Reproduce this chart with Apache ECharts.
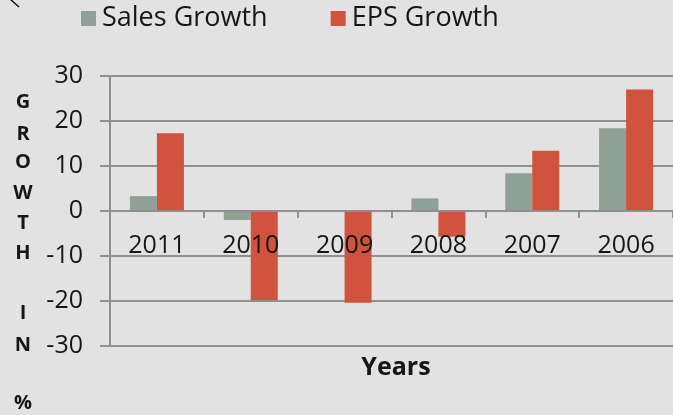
<!DOCTYPE html>
<html>
<head>
<meta charset="utf-8">
<script src="https://cdn.jsdelivr.net/npm/echarts@6/dist/echarts.min.js"></script>
<style>
  html, body { margin: 0; padding: 0; background: #e2e2e2; }
  #chart { width: 673px; height: 415px; }
</style>
</head>
<body>
<div id="chart"></div>
<script>
// Yearly growth figures (%)
const categories = ['2011', '2010', '2009', '2008', '2007', '2006'];
const salesGrowth = [3.3, -2.0, 0, 2.8, 8.4, 18.4];
const epsGrowth = [17.3, -19.8, -20.4, -5.7, 13.4, 27.0];
const yMin = -30;
const yMax = 30;
const yStep = 10;

const FONT = '"Open Sans", Lato, sans-serif';
const GRID = '#8f8f8f';
const INK = '#161616';

const PLOT_TOP = 76;
const PLOT_BOTTOM = 346;
// Category axis sits on the zero line of the value scale
const zeroOffset = -(PLOT_BOTTOM - PLOT_TOP) * (0 - yMin) / (yMax - yMin);

// Stacked vertical axis title, one glyph per row
const sideTitle = [
  ['G', 102.5], ['R', 134], ['O', 162], ['W', 193], ['T', 223], ['H', 253],
  ['I', 313], ['N', 345], ['%', 403.5]
];

const chart = echarts.init(document.getElementById('chart'));
chart.setOption({
  backgroundColor: '#e2e2e2',
  animation: false,
  legend: {
    left: 81,
    top: 5,
    padding: 0,
    itemWidth: 15,
    itemHeight: 15,
    itemGap: 63,
    icon: 'rect',
    textStyle: { fontFamily: FONT, fontSize: 27, color: INK, padding: [0, 0, 0, 1] },
    data: ['Sales Growth', 'EPS Growth']
  },
  grid: { left: 110, top: PLOT_TOP, right: -9, bottom: 415 - PLOT_BOTTOM },
  xAxis: {
    type: 'category',
    data: categories,
    position: 'bottom',
    offset: zeroOffset,
    z: 5,
    axisLine: { onZero: false, lineStyle: { color: GRID, width: 2 } },
    axisTick: { show: true, length: 7, lineStyle: { color: GRID, width: 2 } },
    axisLabel: { margin: 22, fontFamily: FONT, fontSize: 25, color: INK },
    splitLine: { show: false }
  },
  yAxis: {
    type: 'value',
    min: yMin,
    max: yMax,
    interval: yStep,
    axisLine: { show: true, lineStyle: { color: GRID, width: 2 } },
    axisTick: { show: true, length: 10, lineStyle: { color: GRID, width: 2 } },
    axisLabel: { margin: 27, fontFamily: FONT, fontSize: 25, color: INK },
    splitLine: { show: true, lineStyle: { color: GRID, width: 2 } }
  },
  series: [
    {
      name: 'Sales Growth',
      type: 'bar',
      data: salesGrowth,
      barWidth: 27,
      barGap: '0%',
      itemStyle: { color: '#8fa096' }
    },
    {
      name: 'EPS Growth',
      type: 'bar',
      data: epsGrowth,
      barWidth: 27,
      barGap: '0%',
      itemStyle: { color: '#d0533d' }
    }
  ],
  graphic: [
    {
      type: 'line',
      shape: { x1: 10, y1: -1, x2: 19, y2: 7 },
      style: { stroke: INK, lineWidth: 1.5 }
    },
    {
      type: 'text',
      x: 396,
      y: 367.5,
      style: {
        text: 'Years',
        font: 'bold 25px ' + FONT,
        fill: INK,
        textAlign: 'center',
        textVerticalAlign: 'middle'
      }
    }
  ].concat(sideTitle.map(([ch, y]) => ({
    type: 'text',
    x: 23,
    y: y,
    style: {
      text: ch,
      font: 'bold 20px ' + FONT,
      fill: INK,
      textAlign: 'center',
      textVerticalAlign: 'middle'
    }
  })))
});
</script>
</body>
</html>
